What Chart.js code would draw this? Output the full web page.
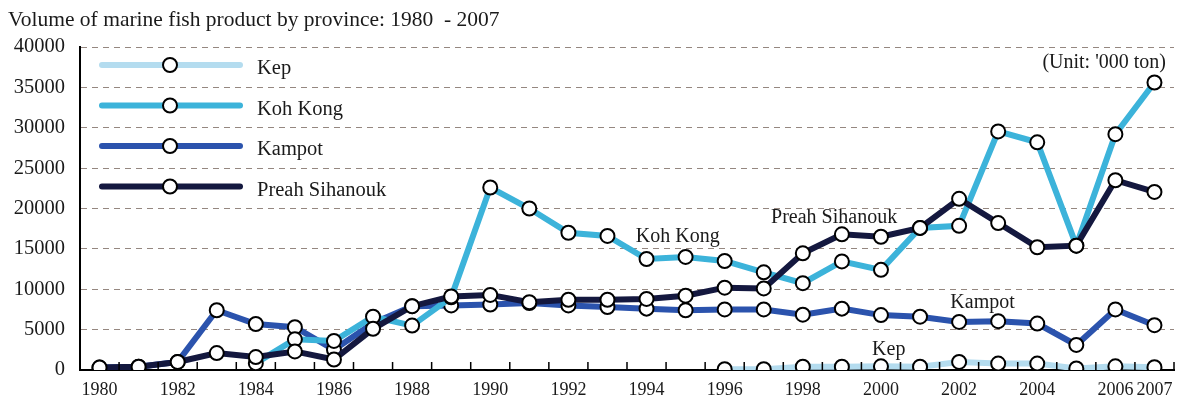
<!DOCTYPE html>
<html lang="en">
<head>
<meta charset="UTF-8">
<title>Volume of marine fish product by province</title>
<script src="https://cdn.jsdelivr.net/npm/chart.js@4/dist/chart.umd.min.js"></script>
<style>
  html, body { margin: 0; padding: 0; background: #fff; }
  #wrap { width: 1183px; height: 403px; }
</style>
</head>
<body>
<div id="wrap"><canvas id="chart" width="1183" height="403"></canvas></div>
<script>
// Chart values ('000 ton)
const years = [
  1980, 1981, 1982, 1983, 1984, 1985, 1986, 1987, 1988, 1989,
  1990, 1991, 1992, 1993, 1994, 1995, 1996, 1997, 1998, 1999,
  2000, 2001, 2002, 2003, 2004, 2005, 2006, 2007,
];

const kep = [
  null, null, null, null, null, null, null, null, null, null,
  null, null, null, null, null, null, 100, 100, 400, 400,
  450, 400, 1000, 800, 800, 200, 450, 350,
];

const kohKong = [
  null, null, null, null, 850, 3800, 3600, 6600, 5500, 9000,
  22600, 20000, 17000, 16600, 13750, 14000, 13500, 12100, 10750, 13450,
  12400, 17600, 17850, 29550, 28200, 15400, 29200, 35600,
];

const kampot = [
  300, 400, 1000, 7400, 5700, 5300, 2500, 5800, 7900, 8000,
  8100, 8300, 8000, 7800, 7600, 7400, 7500, 7500, 6850, 7600,
  6800, 6600, 5950, 6050, 5750, 3100, 7500, 5550,
];

const preahSihanouk = [
  300, 400, 1000, 2100, 1600, 2300, 1300, 5100, 7900, 9100,
  9300, 8400, 8700, 8700, 8800, 9200, 10200, 10100, 14450, 16800,
  16500, 17600, 21200, 18200, 15200, 15400, 23500, 22050,
];

const yTicks = [0, 5000, 10000, 15000, 20000, 25000, 30000, 35000, 40000];

const seriesNames = ['Kep', 'Koh Kong', 'Kampot', 'Preah Sihanouk'];
const seriesColors = ['#b4dcef', '#3cb3da', '#2b53ad', '#14183f'];

// In-chart labels, anchored to category index and value
const annotations = [
  { text: 'Koh Kong', x: 14.8, y: 16500 },
  { text: 'Preah Sihanouk', x: 18.8, y: 18900 },
  { text: 'Kampot', x: 22.6, y: 8300 },
  { text: 'Kep', x: 20.2, y: 2500 },
];

const SERIF = '"Liberation Serif", "DejaVu Serif", serif';

function makeDataset(label, data, color, order) {
  return {
    label,
    data,
    borderColor: color,
    backgroundColor: color,
    borderWidth: 6,
    pointRadius: 7,
    pointHoverRadius: 7,
    pointBackgroundColor: '#fff',
    pointBorderColor: '#000',
    pointBorderWidth: 2,
    tension: 0,
    spanGaps: false,
    order,
  };
}

// Title, unit note, inline labels, inward x ticks and the legend
const decorPlugin = {
  id: 'decor',
  afterDraw(chart) {
    const { ctx, chartArea, scales } = chart;
    const xs = scales.x;
    const ys = scales.y;

    ctx.save();
    ctx.fillStyle = '#1a1a1a';
    ctx.textBaseline = 'middle';

    // title
    ctx.font = `21.5px ${SERIF}`;
    ctx.textAlign = 'left';
    ctx.fillText('Volume of marine fish product by province: 1980  - 2007', 8, 20);

    // unit
    ctx.font = `20px ${SERIF}`;
    ctx.textAlign = 'right';
    ctx.fillText("(Unit: '000 ton)", chartArea.right - 8, 63);

    // inline series labels
    ctx.font = `20px ${SERIF}`;
    ctx.textAlign = 'center';
    annotations.forEach((a) => {
      ctx.fillText(a.text, xs.getPixelForValue(a.x), ys.getPixelForValue(a.y));
    });

    // inward tick marks between categories
    ctx.strokeStyle = '#000';
    ctx.lineWidth = 1.5;
    ctx.beginPath();
    for (let i = 0; i < years.length; i++) {
      const x = (xs.getPixelForValue(i) + xs.getPixelForValue(i + 1)) / 2;
      ctx.moveTo(x, chartArea.bottom);
      ctx.lineTo(x, chartArea.bottom - 8);
    }
    ctx.stroke();

    // legend
    ctx.textAlign = 'left';
    ctx.font = `20.5px ${SERIF}`;
    chart.data.datasets.forEach((ds, i) => {
      const y = 65 + i * 40.5;
      ctx.strokeStyle = ds.borderColor;
      ctx.lineWidth = 6;
      ctx.lineCap = 'round';
      ctx.beginPath();
      ctx.moveTo(102, y);
      ctx.lineTo(240, y);
      ctx.stroke();
      ctx.beginPath();
      ctx.arc(170, y, 7, 0, Math.PI * 2);
      ctx.fillStyle = '#fff';
      ctx.fill();
      ctx.lineWidth = 2;
      ctx.strokeStyle = '#000';
      ctx.stroke();
      ctx.fillStyle = '#1a1a1a';
      ctx.fillText(ds.label, 257, y + 4);
    });
    ctx.restore();
  },
};

new Chart(document.getElementById('chart'), {
  type: 'line',
  data: {
    labels: years,
    datasets: [
      makeDataset(seriesNames[0], kep, seriesColors[0], 4),
      makeDataset(seriesNames[1], kohKong, seriesColors[1], 2),
      makeDataset(seriesNames[2], kampot, seriesColors[2], 3),
      makeDataset(seriesNames[3], preahSihanouk, seriesColors[3], 1),
    ],
  },
  options: {
    responsive: false,
    animation: false,
    events: [],
    layout: { padding: { top: 47, right: 5, left: 0, bottom: 0 } },
    plugins: {
      legend: { display: false },
      tooltip: { enabled: false },
      title: { display: false },
    },
    scales: {
      x: {
        offset: true,
        afterFit(scale) { scale.height = 33; },
        grid: { display: false, drawTicks: false },
        border: { display: true, color: '#000', width: 2 },
        ticks: {
          autoSkip: false,
          maxRotation: 0,
          padding: 9,
          color: '#1a1a1a',
          font: { family: SERIF, size: 18 },
          callback(value, index) {
            const yr = years[index];
            return (yr % 2 === 0 || yr === 2007) ? String(yr) : '';
          },
        },
      },
      y: {
        min: 0,
        max: 40000,
        afterFit(scale) { scale.width = 80; },
        afterBuildTicks(scale) { scale.ticks = yTicks.map((v) => ({ value: v })); },
        grid: {
          color: '#958780',
          lineWidth: 1,
          drawTicks: false,
        },
        border: { display: true, color: '#000', width: 2, dash: [6, 5] },
        ticks: {
          padding: 15,
          color: '#1a1a1a',
          font: { family: SERIF, size: 20.5 },
          callback(value) { return String(value); },
        },
      },
    },
  },
  plugins: [decorPlugin],
});
</script>
</body>
</html>
